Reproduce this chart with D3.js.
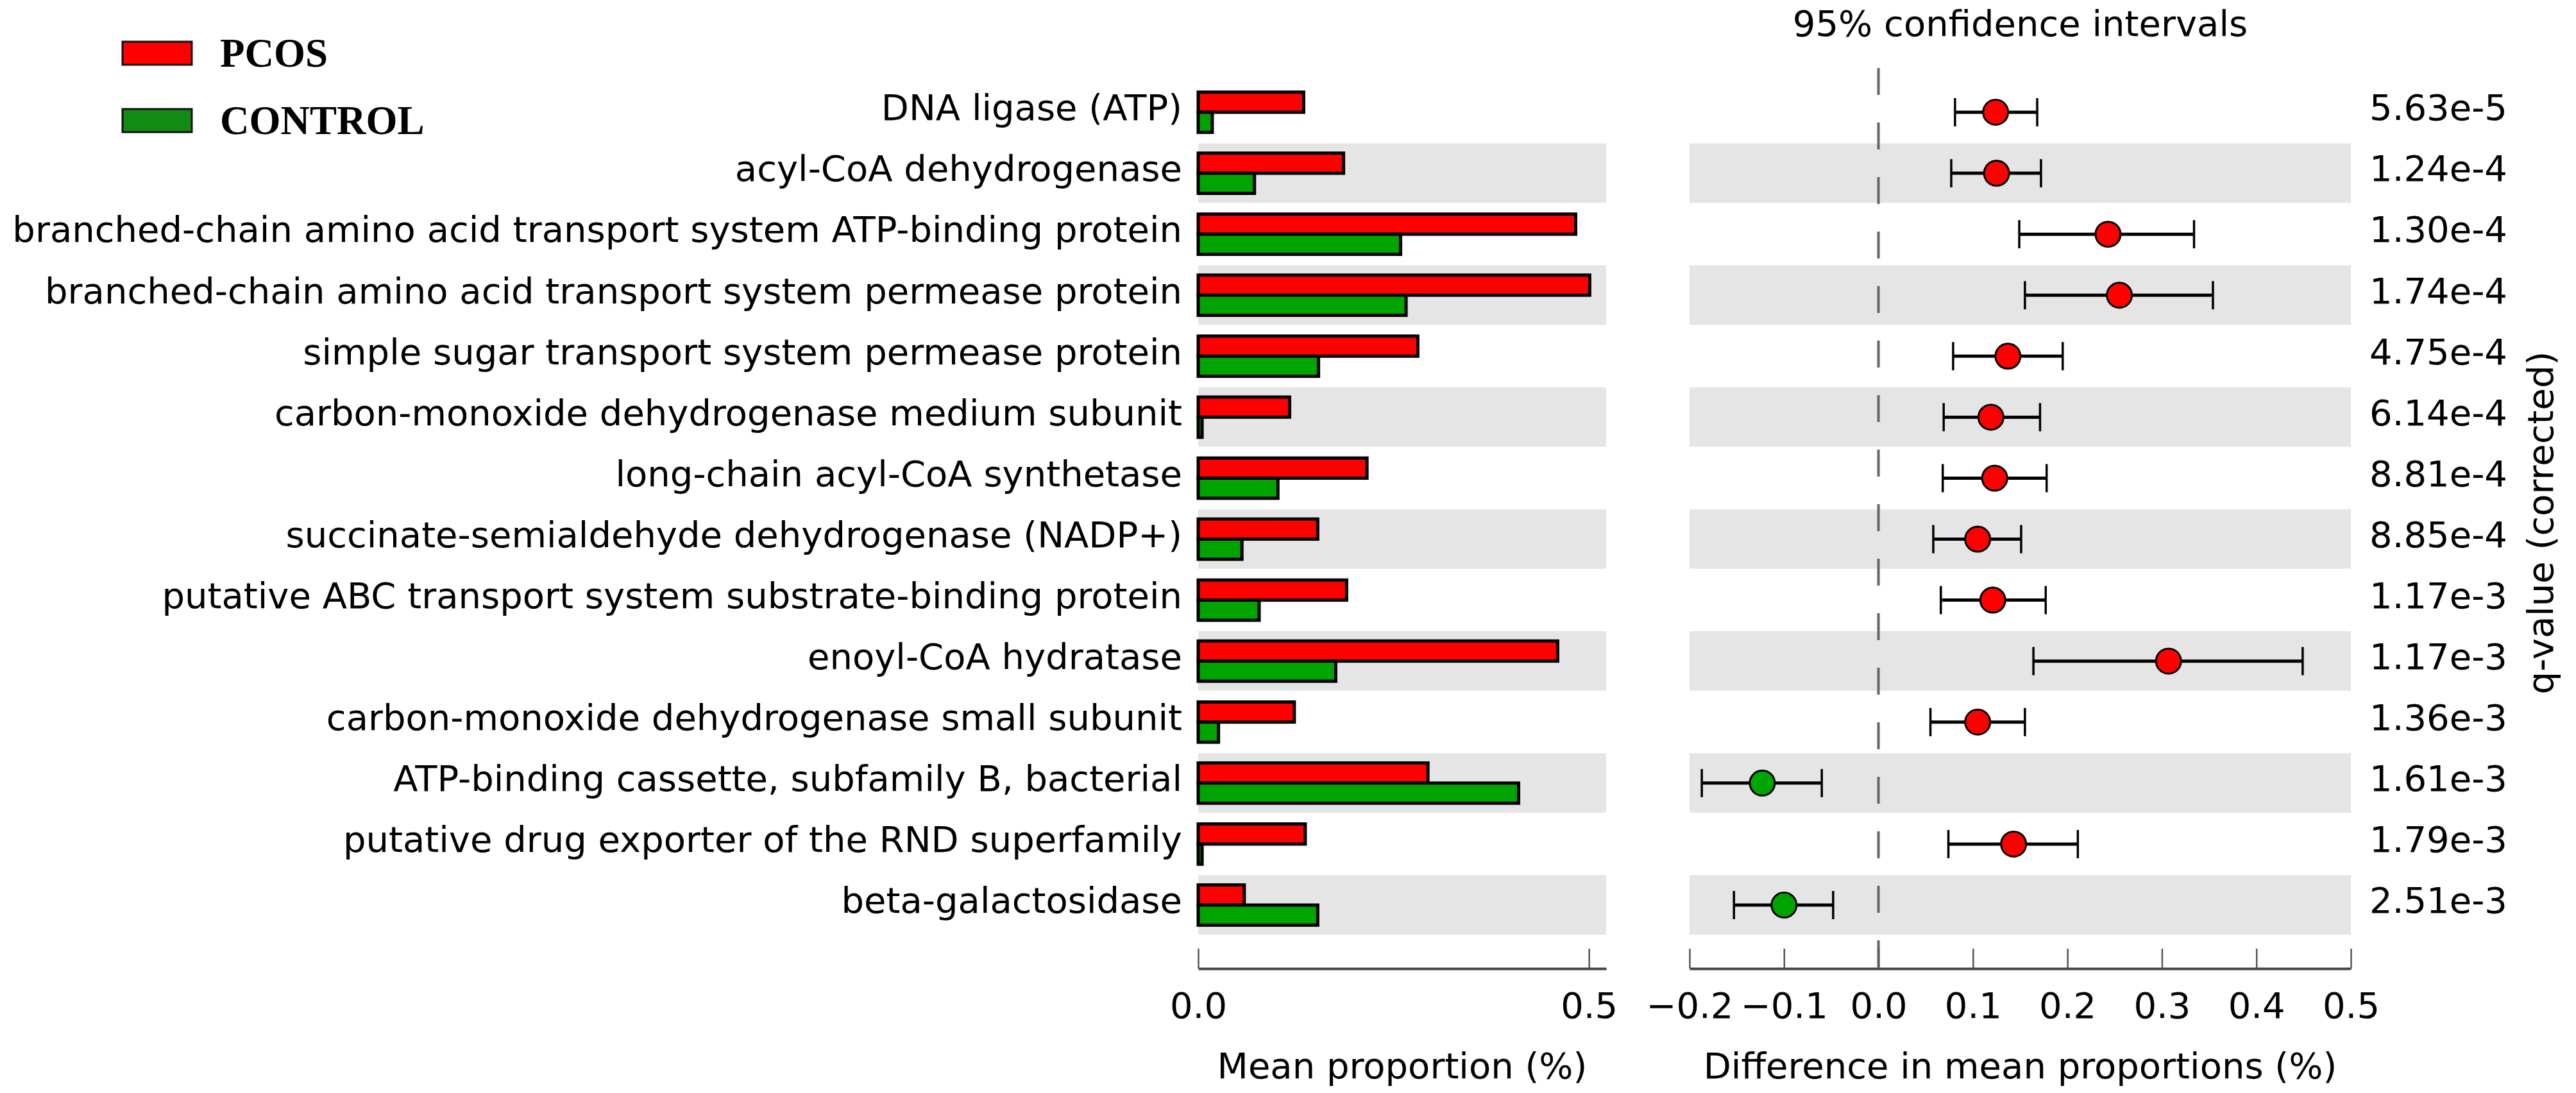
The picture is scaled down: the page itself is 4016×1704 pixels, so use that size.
<!DOCTYPE html>
<html>
<head>
<meta charset="utf-8">
<script src="https://cdn.jsdelivr.net/npm/d3@7"></script>
<style>
  body { margin: 0; background: #fff; }
  svg text { font-family: "DejaVu Sans", sans-serif; fill: #000; }
</style>
</head>
<body>
<div class="chart"></div>
<script>
const w = 4016;
const h = 1704;

// data
const features = [
  'DNA ligase (ATP)',
  'acyl-CoA dehydrogenase',
  'branched-chain amino acid transport system ATP-binding protein',
  'branched-chain amino acid transport system permease protein',
  'simple sugar transport system permease protein',
  'carbon-monoxide dehydrogenase medium subunit',
  'long-chain acyl-CoA synthetase',
  'succinate-semialdehyde dehydrogenase (NADP+)',
  'putative ABC transport system substrate-binding protein',
  'enoyl-CoA hydratase',
  'carbon-monoxide dehydrogenase small subunit',
  'ATP-binding cassette, subfamily B, bacterial',
  'putative drug exporter of the RND superfamily',
  'beta-galactosidase'
];
const pcos = [0.135, 0.186, 0.483, 0.501, 0.281, 0.117, 0.216, 0.153, 0.190, 0.460, 0.123, 0.294, 0.137, 0.059];
const control = [0.018, 0.072, 0.259, 0.266, 0.154, 0.005, 0.102, 0.056, 0.078, 0.176, 0.026, 0.410, 0.005, 0.153];
const diff = [0.124, 0.125, 0.243, 0.255, 0.137, 0.119, 0.123, 0.105, 0.121, 0.307, 0.105, -0.123, 0.143, -0.100];
const ciLow = [0.081, 0.077, 0.149, 0.155, 0.079, 0.069, 0.068, 0.058, 0.066, 0.164, 0.055, -0.187, 0.074, -0.153];
const ciHigh = [0.168, 0.172, 0.334, 0.354, 0.195, 0.171, 0.178, 0.151, 0.177, 0.449, 0.155, -0.060, 0.211, -0.048];
const qValues = ['5.63e-5', '1.24e-4', '1.30e-4', '1.74e-4', '4.75e-4', '6.14e-4', '8.81e-4',
  '8.85e-4', '1.17e-3', '1.17e-3', '1.36e-3', '1.61e-3', '1.79e-3', '2.51e-3'];
const propTicks = [0, 0.5];
const diffTicks = [-0.2, -0.1, 0, 0.1, 0.2, 0.3, 0.4, 0.5];
const groups = ['PCOS', 'CONTROL'];

const red = '#ff0000';
const green = '#00a400';
const legendColors = ['#ff0000', '#138a13'];
const fs = 56;
const axisY = 1510;

const svg = d3.select('.chart')
  .append('svg')
  .attr('width', w)
  .attr('height', h)
  .style('display', 'block');

// scales
const yScale = d3.scaleLinear().domain([0, features.length - 1]).range([175, 1411]);
const step = yScale(1) - yScale(0);
const xLeft = d3.scaleLinear().domain([0, 0.522]).range([1868, 2504]);
const xRight = d3.scaleLinear().domain([-0.2, 0.5]).range([2634, 3665]);

const rows = features.map((f, i) => ({
  name: f, i, pcos: pcos[i], control: control[i],
  diff: diff[i], lo: ciLow[i], hi: ciHigh[i], q: qValues[i]
}));

// alternating bands
[xLeft, xRight].forEach((xs) => {
  svg.append('g')
    .selectAll('rect')
    .data(rows.filter((d) => d.i % 2 === 1))
    .enter()
    .append('rect')
    .attr('x', xs.range()[0])
    .attr('width', xs.range()[1] - xs.range()[0])
    .attr('y', (d) => yScale(d.i) - step * 0.49)
    .attr('height', step * 0.975)
    .attr('fill', '#e5e5e5');
});

// zero line
svg.append('line')
  .attr('x1', xRight(0)).attr('x2', xRight(0))
  .attr('y1', 106).attr('y2', axisY)
  .attr('stroke', '#666')
  .attr('stroke-width', 4)
  .attr('stroke-dasharray', '42,43');

// bars
const barH = step * 0.33;
svg.append('g')
  .selectAll('rect')
  .data(rows)
  .enter()
  .append('rect')
  .attr('x', xLeft(0))
  .attr('y', (d) => yScale(d.i) - barH)
  .attr('width', (d) => xLeft(d.pcos) - xLeft(0))
  .attr('height', barH)
  .attr('fill', red)
  .attr('stroke', '#000')
  .attr('stroke-width', 5);

svg.append('g')
  .selectAll('rect')
  .data(rows)
  .enter()
  .append('rect')
  .attr('x', xLeft(0))
  .attr('y', (d) => yScale(d.i))
  .attr('width', (d) => xLeft(d.control) - xLeft(0))
  .attr('height', barH)
  .attr('fill', green)
  .attr('stroke', '#000')
  .attr('stroke-width', 5);

// confidence intervals
const ci = svg.append('g')
  .selectAll('g')
  .data(rows)
  .enter()
  .append('g');

ci.append('line')
  .attr('x1', (d) => xRight(d.lo))
  .attr('x2', (d) => xRight(d.hi))
  .attr('y1', (d) => yScale(d.i))
  .attr('y2', (d) => yScale(d.i))
  .attr('stroke', '#000')
  .attr('stroke-width', 5);

['lo', 'hi'].forEach((k) => {
  ci.append('line')
    .attr('x1', (d) => xRight(d[k]))
    .attr('x2', (d) => xRight(d[k]))
    .attr('y1', (d) => yScale(d.i) - 22)
    .attr('y2', (d) => yScale(d.i) + 22)
    .attr('stroke', '#000')
    .attr('stroke-width', 3.5);
});

ci.append('circle')
  .attr('cx', (d) => xRight(d.diff))
  .attr('cy', (d) => yScale(d.i))
  .attr('r', 19.5)
  .attr('fill', (d) => (d.diff > 0 ? red : green))
  .attr('stroke', '#000')
  .attr('stroke-width', 3);

// row labels
svg.append('g')
  .selectAll('text')
  .data(rows)
  .enter()
  .append('text')
  .attr('x', 1843)
  .attr('y', (d) => yScale(d.i))
  .attr('dy', '0.22em')
  .attr('text-anchor', 'end')
  .style('font-size', fs + 'px')
  .text((d) => d.name);

// q-values
svg.append('g')
  .selectAll('text')
  .data(rows)
  .enter()
  .append('text')
  .attr('x', 3694)
  .attr('y', (d) => yScale(d.i))
  .attr('dy', '0.22em')
  .style('font-size', fs + 'px')
  .text((d) => d.q);

svg.append('text')
  .attr('transform', `translate(3980,815) rotate(-90)`)
  .attr('text-anchor', 'middle')
  .style('font-size', fs + 'px')
  .text('q-value (corrected)');

// axes
const fmt = d3.format('.1f');
function styleAxis(g) {
  g.select('.domain').attr('stroke', '#444').attr('stroke-width', 4);
  g.selectAll('.tick line').attr('stroke', '#555').attr('stroke-width', 2.5);
  g.selectAll('.tick text')
    .attr('font-family', null)
    .style('font-size', fs + 'px')
    .attr('fill', '#000');
  g.attr('font-size', null).attr('font-family', null);
}

svg.append('g')
  .attr('transform', `translate(0,${axisY})`)
  .call(d3.axisBottom(xLeft).tickValues(propTicks).tickFormat(fmt)
    .tickSize(-31).tickSizeOuter(0).tickPadding(37))
  .call(styleAxis);

svg.append('g')
  .attr('transform', `translate(0,${axisY})`)
  .call(d3.axisBottom(xRight).tickValues(diffTicks).tickFormat(fmt)
    .tickSize(-31).tickSizeOuter(0).tickPadding(37))
  .call(styleAxis);

// titles
svg.append('text')
  .attr('x', (xLeft.range()[0] + xLeft.range()[1]) / 2)
  .attr('y', 1681)
  .attr('text-anchor', 'middle')
  .style('font-size', fs + 'px')
  .text('Mean proportion (%)');

svg.append('text')
  .attr('x', (xRight.range()[0] + xRight.range()[1]) / 2)
  .attr('y', 1681)
  .attr('text-anchor', 'middle')
  .style('font-size', fs + 'px')
  .text('Difference in mean proportions (%)');

svg.append('text')
  .attr('x', (xRight.range()[0] + xRight.range()[1]) / 2)
  .attr('y', 56)
  .attr('text-anchor', 'middle')
  .style('font-size', fs + 'px')
  .text('95% confidence intervals');

// legend
const legend = svg.append('g')
  .selectAll('g')
  .data(groups)
  .enter()
  .append('g')
  .attr('transform', (d, i) => `translate(191,${65 + i * 105})`);

legend.append('rect')
  .attr('width', 108)
  .attr('height', 36)
  .attr('fill', (d, i) => legendColors[i])
  .attr('stroke', '#111')
  .attr('stroke-width', 3);

legend.append('text')
  .attr('x', 152)
  .attr('y', 39)
  .style('font-family', '"Liberation Serif", "Times New Roman", serif')
  .style('font-weight', 'bold')
  .style('font-size', '63px')
  .text((d) => d);
</script>
</body>
</html>
